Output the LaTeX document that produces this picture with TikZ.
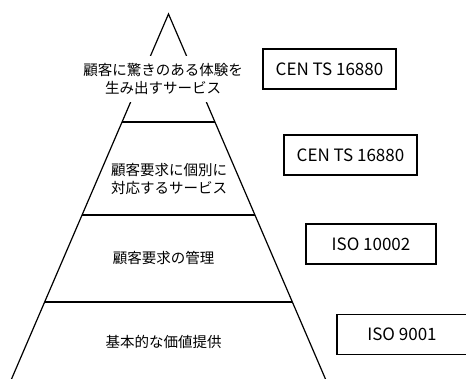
\documentclass[tikz,border=0pt]{standalone}
\usepackage{fontspec}
\newfontfamily\cjk{Noto Sans CJK JP}
\usetikzlibrary{calc}
\begin{document}
\begin{tikzpicture}[x=1pt,y=-1pt,
  tiertext/.style={font=\cjk\fontsize{14.5}{18}\selectfont, align=center, inner sep=0pt},
  stdbox/.style={draw, line width=1.5pt, font=\cjk\fontsize{17}{20}\selectfont, minimum width=133pt, minimum height=40pt, inner sep=0pt},
  edge/.style={line width=1.2pt}]
\useasboundingbox (0,0) rectangle (466,379);
\clip (0,0) rectangle (466,379);
% pyramid
\coordinate (apex) at (168.5,14);
\coordinate (bl) at (6.8,390);
\coordinate (br) at (330.2,390);
\draw[edge] (bl) -- (apex) -- (br);
\draw[edge] ($(apex)!0.28723!(bl)$) -- ($(apex)!0.28723!(br)$);
\draw[edge] ($(apex)!0.53457!(bl)$) -- ($(apex)!0.53457!(br)$);
\draw[edge] ($(apex)!0.76596!(bl)$) -- ($(apex)!0.76596!(br)$);
% tier labels
\node[tiertext, fill=white, inner ysep=7pt, inner xsep=2pt] (t1) at (163,79) {顧客に驚きのある体験を\\生み出すサービス};
\node[tiertext] (t2) at (169,178.5) {顧客要求に個別に\\対応するサービス};
\node[tiertext] (t3) at (163.5,258) {顧客要求の管理};
\node[tiertext] (t4) at (163.5,342) {基本的な価値提供};
% standards
\node[stdbox] (b1) at (329.5,69) {CEN TS 16880};
\node[stdbox] (b2) at (350.5,155) {CEN TS 16880};
\node[stdbox, minimum width=130pt] (b3) at (371,244) {ISO 10002};
\node[stdbox, minimum width=130pt] (b4) at (402,334.5) {ISO 9001};
\end{tikzpicture}
\end{document}
